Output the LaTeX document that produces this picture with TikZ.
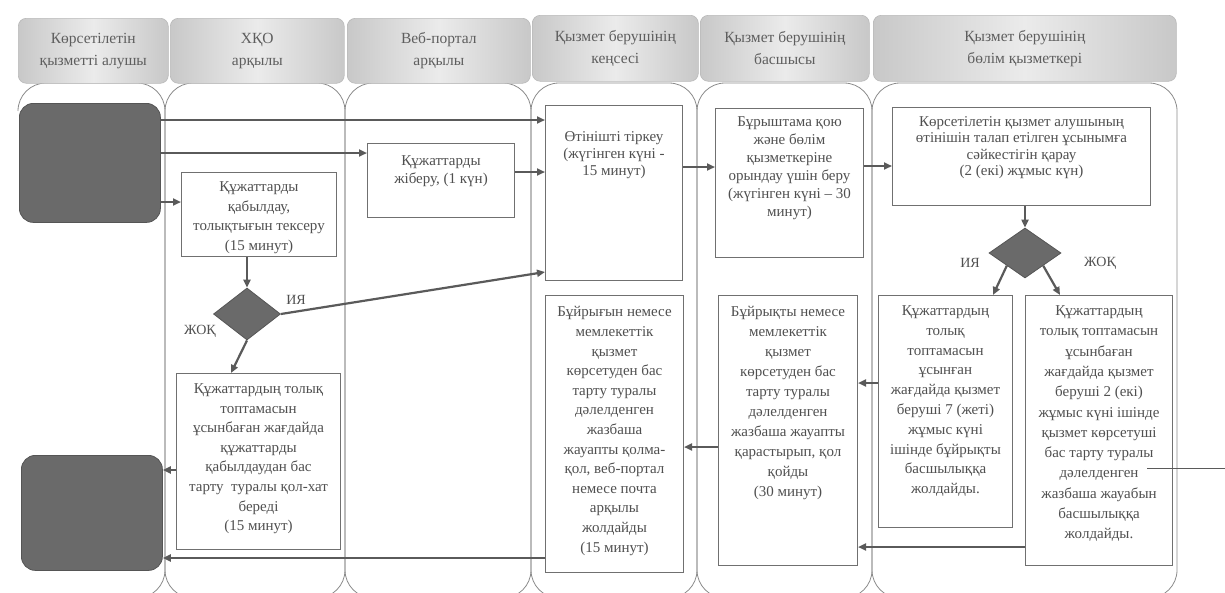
\documentclass[tikz,border=0pt]{standalone}
\usepackage{fontspec}
\setmainfont{Liberation Serif}
\usetikzlibrary{arrows.meta,shapes.geometric}
\definecolor{arrc}{HTML}{5A5A5A}
\definecolor{boxc}{HTML}{707070}
\definecolor{txtc}{HTML}{505050}
\definecolor{lanec}{HTML}{8C8C8C}
\definecolor{darkc}{HTML}{6A6A6A}
\definecolor{hdrd}{HTML}{C8C8C8}
\definecolor{hdrl}{HTML}{EBEBEB}
\definecolor{hdrt}{HTML}{5E5E5E}
\begin{document}
\begin{tikzpicture}[x=1pt,y=-1pt,
  lane/.style={draw=lanec,line width=0.8pt,rounded corners=28pt},
  hdr/.style={draw=gray!55,line width=0.6pt,rounded corners=8pt,left color=hdrd,right color=hdrd,middle color=hdrl,align=center,text=hdrt,font=\fontsize{15.5}{22}\selectfont,inner sep=0pt,anchor=north west},
  box/.style={draw=boxc,line width=1pt,fill=white,inner sep=0pt,anchor=north west},
  txt/.style={align=center,text=txtc,inner sep=0pt,anchor=north,font=\fontsize{15}{#1}\selectfont},
  txt/.default=19.6,
  dark/.style={fill=darkc,draw=darkc!80!black,line width=0.8pt,rounded corners=14pt,anchor=north west,inner sep=0pt},
  dia/.style={diamond,fill=darkc,draw=darkc!80!black,line width=0.8pt,inner sep=0pt},
  arr/.style={draw=arrc,line width=2.2pt,-{Triangle[length=8pt,width=7pt]}},
  lbl/.style={text=txtc,font=\fontsize{14}{16}\selectfont,inner sep=0pt}
]
\useasboundingbox (0,0) rectangle (1225,592);
\fill[white] (0,0) rectangle (1225,592);

% lanes
\draw[lane] (18,111) -- (18,83) -- (165,83) -- (165,598) -- (110,598);
\draw[lane] (165,83) rectangle (345,598);
\draw[lane] (345,83) rectangle (531,598);
\draw[lane] (531,83) rectangle (697,598);
\draw[lane] (697,83) rectangle (872,598);
\draw[lane] (872,83) rectangle (1177,598);

% headers
\node[hdr,minimum width=150pt,minimum height=65pt] (h1) at (18,18) {Көрсетілетін\\қызметті алушы};
\node[hdr,minimum width=174pt,minimum height=65pt] (h2) at (170,18) {ХҚО\\арқылы};
\node[hdr,minimum width=183pt,minimum height=65pt] (h3) at (347,18) {Веб-портал\\арқылы};
\node[hdr,minimum width=166pt,minimum height=66pt] (h4) at (532,15) {Қызмет берушінің\\кеңсесі};
\node[hdr,minimum width=169pt,minimum height=66pt] (h5) at (700,15) {Қызмет берушінің\\басшысы};
\node[hdr,minimum width=303pt,minimum height=66pt] (h6) at (873,15) {Қызмет берушінің\\бөлім қызметкері};

% start / end
\node[dark,minimum width=141pt,minimum height=119pt] (s1) at (19,103) {};
\node[dark,minimum width=141pt,minimum height=115pt] (s2) at (21,455) {};

% boxes
\node[box,minimum width=155pt,minimum height=84pt] (b1) at (181,172) {};
\node[box,minimum width=164pt,minimum height=176pt] (b2) at (176,373) {};
\node[box,minimum width=147pt,minimum height=74pt] (b3) at (367,143) {};
\node[box,minimum width=137pt,minimum height=175pt] (b4) at (545,105) {};
\node[box,minimum width=148pt,minimum height=149pt] (b6) at (715,108) {};
\node[box,minimum width=258pt,minimum height=98pt] (b7) at (892,107) {};
\node[box,minimum width=134pt,minimum height=232pt] (b8) at (878,295) {};
\node[box,minimum width=147pt,minimum height=270pt] (b9) at (1025,295) {};
\node[box,minimum width=139pt,minimum height=270pt] (b10) at (718,295) {};
\node[box,minimum width=138pt,minimum height=277pt] (b11) at (545,295) {};

% texts
\node[txt=19.7] (t1) at (b1.north |- 0,181.5) {Құжаттарды\\қабылдау,\\толықтығын тексеру\\(15 минут)};
\node[txt=19.6] (t2) at (b2.north |- 0,383.5) {Құжаттардың толық\\топтамасын\\ұсынбаған жағдайда\\құжаттарды\\қабылдаудан бас\\тарту~ туралы қол-хат\\береді\\(15 минут)};
\node[txt=18] (t3) at (b3.north |- 0,155.5) {Құжаттарды\\жіберу, (1 күн)};
\node[txt=17] (t4) at (b4.north |- 0,131.5) {Өтінішті тіркеу\\(жүгінген күні -\\15 минут)};
\node[txt=18] (t6) at (b6.north |- 0,116.5) {Бұрыштама қою\\және бөлім\\қызметкеріне\\орындау үшін беру\\(жүгінген күні – 30\\минут)};
\node[txt=16.3] (t7) at (b7.north |- 0,116.5) {Көрсетілетін қызмет алушының\\өтінішін талап етілген ұсынымға\\сәйкестігін қарау\\(2 (екі) жұмыс күн)};
\node[txt=19.8] (t8) at (b8.north |- 0,305.5) {Құжаттардың\\толық\\топтамасын\\ұсынған\\жағдайда қызмет\\беруші 7 (жеті)\\жұмыс күні\\ішінде бұйрықты\\басшылыққа\\жолдайды.};
\node[txt=20.3] (t9) at (b9.north |- 0,305.5) {Құжаттардың\\толық топтамасын\\ұсынбаған\\жағдайда қызмет\\беруші 2 (екі)\\жұмыс күні ішінде\\қызмет көрсетуші\\бас тарту туралы\\дәлелденген\\жазбаша жауабын\\басшылыққа\\жолдайды.};
\node[txt=19.9] (t10) at (b10.north |- 0,306.5) {Бұйрықты немесе\\мемлекеттік\\қызмет\\көрсетуден бас\\тарту туралы\\дәлелденген\\жазбаша жауапты\\қарастырып, қол\\қойды\\(30 минут)};
\node[txt=19.6] (t11) at (b11.north |- 0,306.5) {Бұйрығын немесе\\мемлекеттік\\қызмет\\көрсетуден бас\\тарту туралы\\дәлелденген\\жазбаша\\жауапты қолма-\\қол, веб-портал\\немесе почта\\арқылы\\жолдайды\\(15 минут)};

% diamonds
\node[dia,minimum width=67pt,minimum height=52pt] (d1) at (247,314) {};
\node[dia,minimum width=72pt,minimum height=50pt] (d2) at (1025,253) {};

% labels
\node[lbl] (l1) at (296,300) {ИЯ};
\node[lbl] (l2) at (200,331) {ЖОҚ};
\node[lbl] (l3) at (970,263) {ИЯ};
\node[lbl] (l4) at (1100,263) {ЖОҚ};

% arrows
\draw[arr] (s1.east |- 0,120) -- (b4.west |- 0,120);
\draw[arr] (s1.east |- 0,153) -- (b3.west |- 0,153);
\draw[arr] (s1.east |- 0,202) -- (b1.west |- 0,202);
\draw[arr] (b3.east |- 0,172) -- (b4.west |- 0,172);
\draw[arr] (d1.north |- b1.south) -- (d1.north);
\draw[arr] (d1.east) -- (b4.west |- 0,272);
\draw[arr] (d1.south) -- ([xshift=55pt]b2.north west);
\draw[arr] (b2.west |- 0,470) -- (s2.east |- 0,470);
\draw[arr] (b4.east |- 0,167) -- (b6.west |- 0,167);
\draw[arr] (b6.east |- 0,166) -- (b7.west |- 0,166);
\draw[arr] (d2.north |- b7.south) -- (d2.north);
\draw[arr] (d2.south west) -- ([xshift=115pt]b8.north west);
\draw[arr] (d2.south east) -- ([xshift=35pt]b9.north west);
\draw[arr] (b8.west |- 0,383) -- (b10.east |- 0,383);
\draw[arr] (b9.west |- 0,547) -- (b10.east |- 0,547);
\draw[arr] (b10.west |- 0,447) -- (b11.east |- 0,447);
\draw[arr] (b11.west |- 0,558) -- (s2.east |- 0,558);

% stray line
\coordinate (st1) at (1147,468);
\coordinate (st2) at (1225,468);
\draw[draw=arrc,line width=0.8pt] (st1) -- (st2);
\end{tikzpicture}
\end{document}
